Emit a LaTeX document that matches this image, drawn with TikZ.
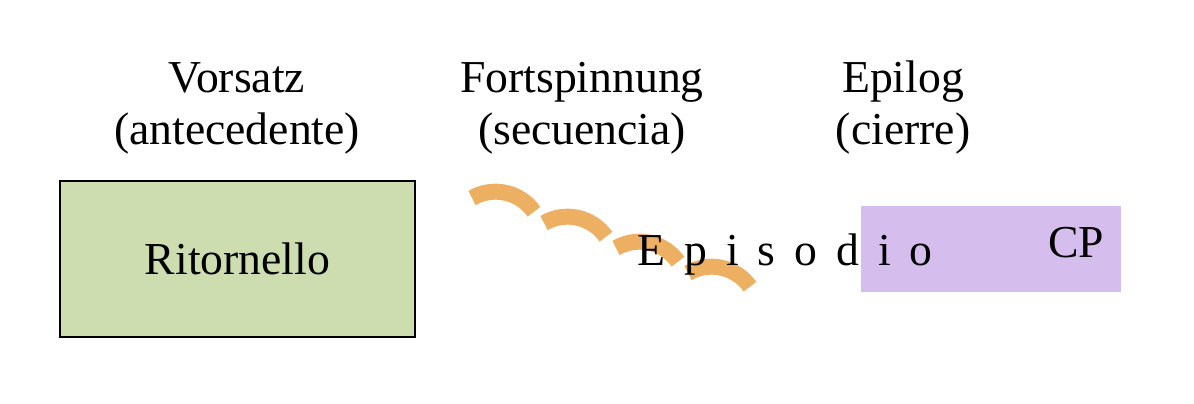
\documentclass[tikz,border=0pt]{standalone}
\usepackage{fontspec}
\setmainfont{Liberation Serif}
\definecolor{ritgreen}{HTML}{CDDDB0}
\definecolor{cppurple}{HTML}{D5BEEE}
\definecolor{seqorange}{HTML}{EDB062}
\begin{document}
\begin{tikzpicture}[x=0.02cm,y=0.02cm,
    headtext/.style={align=center,inner sep=0pt,font=\fontsize{26}{29.6}\selectfont},
    txt/.style={inner sep=0pt,font=\fontsize{26}{29.6}\selectfont},
    seqarc/.style={draw=seqorange,line width=0.32cm}]
    \useasboundingbox (0,0) rectangle (1194,404);
    % section titles
    \node[headtext] (vorsatz) at (237,296) {Vorsatz\\(antecedente)};
    \node[headtext] (fort) at (582,296) {Fortspinnung\\(secuencia)};
    \node[headtext] (epilog) at (903,296) {Epilog\\(cierre)};
    % ritornello
    \node[draw,rectangle,fill=ritgreen,line width=0.8pt,minimum width=7.1cm,minimum height=3.12cm,txt] (rit) at (237.5,145) {Ritornello};
    % closing cadence
    \node[rectangle,fill=cppurple,minimum width=5.2cm,minimum height=1.72cm,inner sep=0pt] (cp) at (991,155) {};
    \node[txt,anchor=base] (cptext) at (1076,146) {CP};
    % sequence steps
    \foreach \k in {0,...,3}
        \draw[seqarc] (472+72*\k,206-25*\k) arc[start angle=120,end angle=35,radius=0.94cm];
    \node[txt,anchor=base west] (episodio) at (637,138) {\spaceskip=10.8pt E p i s o d i o};
\end{tikzpicture}
\end{document}
